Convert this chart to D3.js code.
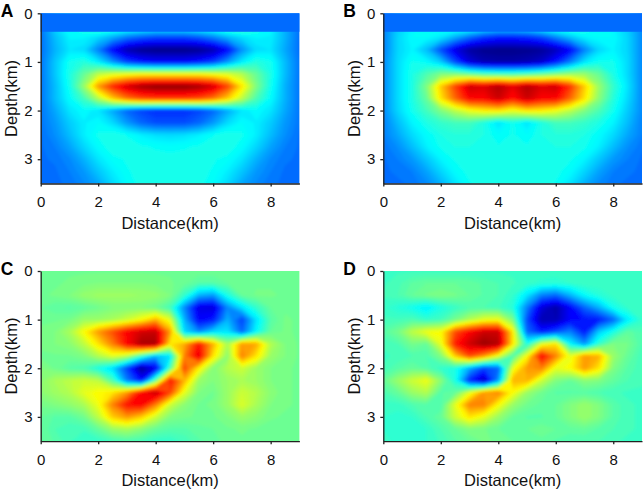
<!DOCTYPE html>
<html>
<head>
<meta charset="utf-8">
<script src="https://cdn.jsdelivr.net/npm/d3@7"></script>
<style>
  body { margin: 0; background: #fff; }
  text { font-family: Arial, "Liberation Sans", sans-serif; }
</style>
</head>
<body>
<svg id="chart" width="643" height="490"></svg>
<script>
// grid where the fields were read (km)
const distanceKm = [0, 0.5, 1, 1.5, 2, 2.5, 3, 3.5, 4, 4.5, 5, 5.5, 6, 6.5, 7, 7.5, 8, 8.5, 9];
const depthKm = [0, 0.25, 0.5, 0.75, 1, 1.25, 1.5, 1.75, 2, 2.25, 2.5, 2.75, 3, 3.25, 3.5];

// axis ticks
const distanceTicks = [0, 2, 4, 6, 8];
const depthTicks = [0, 1, 2, 3];
const panelLabels = ["A", "B", "C", "D"];

// uniform top layer of A and B (covers the first rows)
const bandDepth = 0.38;
const bandValue = -0.54;

// amplitude, -1 (dark blue) .. 1 (dark red), one row per depth
const fieldA = [
  [-0.52,-0.32,-0.22,-0.15,-0.08,-0.08,-0.1,-0.12,-0.15,-0.15,-0.15,-0.12,-0.1,-0.05,-0.05,-0.15,-0.25,-0.4,-0.52],
  [-0.52,-0.32,-0.22,-0.15,-0.08,-0.08,-0.1,-0.12,-0.15,-0.15,-0.15,-0.12,-0.1,-0.05,-0.05,-0.15,-0.25,-0.4,-0.52],
  [-0.53,-0.38,-0.27,-0.27,-0.33,-0.42,-0.52,-0.58,-0.62,-0.62,-0.62,-0.58,-0.5,-0.4,-0.32,-0.27,-0.28,-0.4,-0.53],
  [-0.53,-0.4,-0.3,-0.32,-0.5,-0.74,-0.9,-0.96,-0.98,-0.98,-0.98,-0.96,-0.9,-0.74,-0.47,-0.32,-0.3,-0.42,-0.53],
  [-0.52,-0.36,-0.22,-0.18,-0.28,-0.45,-0.62,-0.7,-0.74,-0.74,-0.74,-0.7,-0.62,-0.45,-0.28,-0.18,-0.22,-0.38,-0.52],
  [-0.52,-0.36,-0.2,-0.05,0.12,0.18,0.22,0.25,0.25,0.25,0.25,0.25,0.22,0.18,0.1,-0.05,-0.2,-0.38,-0.52],
  [-0.52,-0.38,-0.22,0.05,0.45,0.68,0.84,0.93,0.97,0.97,0.97,0.93,0.84,0.62,0.3,0.0,-0.22,-0.4,-0.52],
  [-0.52,-0.38,-0.25,-0.12,0.1,0.35,0.52,0.6,0.63,0.63,0.63,0.6,0.52,0.35,0.12,-0.1,-0.25,-0.4,-0.52],
  [-0.52,-0.42,-0.3,-0.25,-0.3,-0.42,-0.55,-0.62,-0.66,-0.66,-0.66,-0.62,-0.55,-0.42,-0.3,-0.25,-0.3,-0.42,-0.52],
  [-0.52,-0.45,-0.35,-0.28,-0.25,-0.32,-0.45,-0.55,-0.6,-0.6,-0.6,-0.55,-0.45,-0.32,-0.25,-0.28,-0.35,-0.45,-0.52],
  [-0.53,-0.47,-0.38,-0.28,-0.22,-0.2,-0.23,-0.28,-0.31,-0.32,-0.31,-0.28,-0.23,-0.2,-0.22,-0.28,-0.38,-0.47,-0.53],
  [-0.53,-0.5,-0.43,-0.33,-0.25,-0.2,-0.2,-0.22,-0.23,-0.24,-0.23,-0.22,-0.2,-0.2,-0.25,-0.33,-0.43,-0.5,-0.53],
  [-0.53,-0.52,-0.48,-0.4,-0.3,-0.24,-0.22,-0.21,-0.21,-0.21,-0.21,-0.21,-0.22,-0.24,-0.3,-0.4,-0.48,-0.52,-0.53],
  [-0.53,-0.53,-0.5,-0.45,-0.36,-0.28,-0.23,-0.21,-0.2,-0.2,-0.2,-0.21,-0.23,-0.28,-0.36,-0.45,-0.5,-0.53,-0.53],
  [-0.53,-0.53,-0.52,-0.48,-0.42,-0.32,-0.25,-0.21,-0.2,-0.2,-0.2,-0.21,-0.25,-0.32,-0.42,-0.48,-0.52,-0.53,-0.53]
];

const fieldB = [
  [-0.5,-0.35,-0.27,-0.22,-0.18,-0.13,-0.1,-0.15,-0.2,-0.2,-0.18,-0.12,-0.08,-0.08,-0.15,-0.22,-0.27,-0.35,-0.48],
  [-0.5,-0.35,-0.27,-0.22,-0.18,-0.13,-0.1,-0.15,-0.2,-0.2,-0.18,-0.12,-0.08,-0.08,-0.15,-0.22,-0.27,-0.35,-0.48],
  [-0.5,-0.33,-0.25,-0.25,-0.3,-0.42,-0.55,-0.65,-0.7,-0.7,-0.68,-0.62,-0.5,-0.38,-0.28,-0.25,-0.25,-0.33,-0.48],
  [-0.5,-0.33,-0.27,-0.38,-0.6,-0.8,-0.93,-0.97,-0.98,-0.98,-0.97,-0.95,-0.88,-0.75,-0.5,-0.33,-0.27,-0.33,-0.48],
  [-0.48,-0.32,-0.22,-0.25,-0.35,-0.6,-0.82,-0.9,-0.92,-0.92,-0.9,-0.85,-0.7,-0.5,-0.3,-0.22,-0.22,-0.32,-0.48],
  [-0.48,-0.32,-0.2,-0.1,0.0,0.0,-0.05,-0.1,-0.12,-0.12,-0.1,-0.05,0.0,0.05,0.05,-0.05,-0.2,-0.32,-0.48],
  [-0.48,-0.32,-0.2,0.0,0.35,0.62,0.85,0.82,0.9,0.8,0.9,0.82,0.85,0.65,0.35,0.05,-0.15,-0.3,-0.48],
  [-0.48,-0.32,-0.2,-0.05,0.3,0.55,0.75,0.75,0.85,0.72,0.85,0.75,0.75,0.55,0.3,0.02,-0.18,-0.32,-0.48],
  [-0.48,-0.33,-0.22,-0.12,0.0,0.12,0.22,0.28,0.3,0.22,0.3,0.28,0.22,0.12,0.0,-0.1,-0.22,-0.35,-0.48],
  [-0.5,-0.38,-0.27,-0.2,-0.15,-0.12,-0.12,-0.2,-0.3,-0.22,-0.3,-0.2,-0.12,-0.12,-0.15,-0.2,-0.27,-0.38,-0.5],
  [-0.5,-0.42,-0.32,-0.25,-0.2,-0.18,-0.18,-0.2,-0.25,-0.22,-0.25,-0.2,-0.18,-0.18,-0.2,-0.25,-0.32,-0.42,-0.5],
  [-0.52,-0.47,-0.38,-0.28,-0.22,-0.2,-0.2,-0.2,-0.22,-0.22,-0.22,-0.2,-0.2,-0.2,-0.22,-0.28,-0.38,-0.47,-0.52],
  [-0.53,-0.5,-0.45,-0.36,-0.27,-0.22,-0.2,-0.2,-0.2,-0.2,-0.2,-0.2,-0.2,-0.22,-0.27,-0.36,-0.45,-0.5,-0.53],
  [-0.53,-0.52,-0.5,-0.43,-0.33,-0.25,-0.21,-0.2,-0.2,-0.2,-0.2,-0.2,-0.21,-0.25,-0.33,-0.43,-0.5,-0.52,-0.53],
  [-0.53,-0.53,-0.52,-0.48,-0.4,-0.3,-0.23,-0.2,-0.2,-0.2,-0.2,-0.2,-0.23,-0.3,-0.4,-0.48,-0.52,-0.53,-0.53]
];

const fieldC = [
  [-0.03,-0.03,-0.03,-0.03,-0.03,-0.03,-0.03,-0.03,-0.03,-0.03,-0.03,-0.03,-0.03,-0.03,-0.03,-0.03,-0.03,-0.03,-0.03],
  [-0.03,-0.03,-0.02,-0.01,0.0,0.0,0.0,0.0,-0.01,-0.02,-0.04,-0.08,-0.08,-0.05,-0.03,-0.03,-0.03,-0.03,-0.03],
  [-0.03,-0.02,0.0,0.04,0.06,0.06,0.06,0.05,0.04,0.0,-0.15,-0.4,-0.45,-0.2,-0.05,-0.02,-0.02,-0.03,-0.03],
  [-0.05,-0.07,-0.08,-0.06,-0.03,0.0,0.0,0.0,-0.03,-0.12,-0.48,-0.8,-0.82,-0.48,-0.3,-0.15,-0.05,-0.03,-0.03],
  [-0.03,-0.03,-0.02,0.05,0.05,0.08,0.15,0.25,0.4,0.2,-0.4,-0.75,-0.7,-0.4,-0.62,-0.3,-0.08,-0.02,-0.03],
  [-0.02,0.0,0.08,0.25,0.45,0.6,0.75,0.84,0.86,0.45,-0.32,-0.48,-0.32,-0.3,-0.55,-0.25,-0.05,-0.02,-0.03],
  [-0.02,0.0,0.02,0.12,0.3,0.5,0.74,0.92,0.92,0.3,0.42,0.72,0.4,0.08,0.45,0.42,0.1,0.0,-0.03],
  [-0.03,-0.03,-0.03,0.0,0.1,0.2,0.12,-0.15,-0.4,-0.3,0.5,0.8,0.3,0.02,0.5,0.3,0.05,0.0,-0.03],
  [0.0,-0.03,-0.08,-0.1,-0.2,-0.32,-0.62,-0.95,-0.78,-0.1,0.62,0.28,0.0,0.1,0.15,0.05,0.0,-0.02,-0.03],
  [0.02,0.08,0.12,0.15,0.12,-0.1,-0.5,-0.72,-0.05,0.72,0.4,0.05,0.0,0.05,0.08,0.05,0.0,-0.02,-0.03],
  [0.02,0.06,0.1,0.2,0.25,0.3,0.45,0.75,0.88,0.62,0.2,0.0,-0.03,0.05,0.15,0.1,0.02,-0.02,-0.03],
  [-0.02,0.0,0.03,0.08,0.22,0.5,0.72,0.75,0.5,0.15,0.02,-0.03,-0.02,0.05,0.18,0.08,0.0,-0.02,-0.03],
  [-0.05,-0.08,-0.08,-0.03,0.12,0.35,0.45,0.35,0.15,0.0,-0.02,-0.03,-0.03,0.0,0.05,0.02,-0.02,-0.03,-0.03],
  [-0.05,-0.1,-0.12,-0.12,-0.05,0.05,0.08,0.02,-0.05,-0.08,-0.08,-0.06,-0.05,-0.03,-0.02,-0.03,-0.04,-0.04,-0.04],
  [-0.05,-0.08,-0.12,-0.15,-0.15,-0.12,-0.1,-0.12,-0.15,-0.15,-0.12,-0.08,-0.06,-0.04,-0.03,-0.03,-0.04,-0.04,-0.04]
];

const fieldD = [
  [-0.13,-0.13,-0.13,-0.13,-0.13,-0.13,-0.13,-0.13,-0.13,-0.13,-0.13,-0.13,-0.13,-0.13,-0.13,-0.13,-0.13,-0.13,-0.13],
  [-0.13,-0.11,-0.07,-0.05,-0.05,-0.05,-0.06,-0.08,-0.1,-0.12,-0.14,-0.16,-0.17,-0.15,-0.13,-0.13,-0.13,-0.13,-0.13],
  [-0.12,-0.1,-0.05,-0.02,0.0,-0.02,-0.05,-0.08,-0.1,-0.15,-0.3,-0.5,-0.55,-0.4,-0.25,-0.18,-0.14,-0.13,-0.13],
  [-0.14,-0.18,-0.22,-0.28,-0.2,-0.14,-0.1,-0.1,-0.12,-0.18,-0.5,-0.82,-0.92,-0.75,-0.55,-0.4,-0.22,-0.15,-0.13],
  [-0.12,-0.12,-0.1,-0.15,-0.12,-0.02,0.1,0.2,0.22,0.0,-0.6,-0.9,-0.9,-0.75,-0.72,-0.7,-0.55,-0.28,-0.15],
  [-0.08,-0.02,0.12,0.22,0.25,0.6,0.75,0.85,0.85,0.3,-0.55,-0.7,-0.6,-0.5,-0.7,-0.35,-0.2,-0.06,-0.1],
  [-0.12,-0.1,-0.02,-0.05,0.2,0.7,0.85,0.95,0.9,0.3,-0.2,0.2,0.3,-0.25,-0.45,-0.15,0.0,-0.02,-0.1],
  [-0.13,-0.12,-0.1,-0.1,0.0,0.35,0.6,0.45,0.2,-0.1,0.25,0.75,0.5,0.2,0.45,0.4,0.05,-0.05,-0.12],
  [-0.12,-0.08,-0.05,-0.08,-0.15,-0.2,-0.42,-0.62,-0.55,0.2,0.45,0.5,0.2,0.25,0.45,0.3,0.0,-0.08,-0.12],
  [-0.05,0.05,0.15,0.22,0.02,-0.2,-0.68,-0.88,-0.45,0.4,0.4,0.15,0.0,-0.05,0.02,0.0,-0.06,-0.1,-0.12],
  [-0.1,-0.05,0.05,0.1,-0.08,-0.05,0.2,0.45,0.5,0.25,0.05,-0.03,-0.08,-0.08,-0.08,-0.1,-0.12,-0.13,-0.13],
  [-0.14,-0.14,-0.1,-0.08,-0.1,0.2,0.5,0.5,0.25,0.05,-0.03,-0.06,-0.05,0.0,0.05,0.0,-0.08,-0.12,-0.13],
  [-0.15,-0.16,-0.15,-0.1,-0.05,0.15,0.3,0.2,0.05,-0.05,-0.08,-0.08,-0.05,0.0,0.05,0.0,-0.08,-0.12,-0.13],
  [-0.15,-0.17,-0.17,-0.15,-0.1,-0.05,0.0,-0.02,-0.05,-0.06,-0.05,-0.03,-0.05,-0.06,-0.05,-0.08,-0.1,-0.12,-0.13],
  [-0.14,-0.16,-0.16,-0.15,-0.12,-0.08,-0.05,-0.02,-0.03,-0.05,-0.06,-0.06,-0.08,-0.1,-0.1,-0.1,-0.12,-0.13,-0.13]
];

const fields = [fieldA, fieldB, fieldC, fieldD];

// jet colour map
const jet = d3.scaleLinear()
  .domain([-1, -0.75, -0.25, 0.25, 0.75, 1])
  .range(["#000080", "#0000ff", "#00ffff", "#ffff00", "#ff0000", "#800000"])
  .clamp(true);

const step = 0.025;
const levels = d3.range(-1, 1, step);

// panel boxes (px)
const plotW = 258.7, plotH = 170.2;
const layout = [
  { left: 40.7, top: 13.3, band: true },
  { left: 383.3, top: 13.3, band: true },
  { left: 40.7, top: 271, band: false },
  { left: 383.3, top: 271, band: false }
];

const svg = d3.select("#chart");
const defs = svg.append("defs");
defs.append("filter").attr("id", "soften")
  .append("feGaussianBlur").attr("stdDeviation", 1.8);

function drawPanel(i) {
  const box = layout[i];
  const field = fields[i];

  const x = d3.scaleLinear().domain([0, 9]).range([box.left, box.left + plotW]);
  const y = d3.scaleLinear().domain([0, 3.5]).range([box.top, box.top + plotH]);

  // contour grid coordinates -> km -> px (sample k sits at k + 0.5)
  const gx = d3.scaleLinear()
    .domain([0.5, distanceKm.length - 0.5])
    .range([x(distanceKm[0]), x(distanceKm[distanceKm.length - 1])]);
  const gy = d3.scaleLinear()
    .domain([0.5, depthKm.length - 0.5])
    .range([y(depthKm[0]), y(depthKm[depthKm.length - 1])]);
  const path = d3.geoPath(d3.geoTransform({
    point(px, py) { this.stream.point(gx(px), gy(py)); }
  }));

  const bands = d3.contours()
    .size([distanceKm.length, depthKm.length])
    .thresholds(levels)(field.flat());

  defs.append("clipPath").attr("id", "clip" + i)
    .append("rect")
    .attr("x", x(0)).attr("y", y(0))
    .attr("width", x(9) - x(0)).attr("height", y(3.5) - y(0));

  svg.append("g").attr("clip-path", `url(#clip${i})`)
    .append("g").attr("filter", "url(#soften)")
    .selectAll("path")
    .data(bands)
    .join("path")
    .attr("d", path)
    .attr("fill", d => jet(d.value + step / 2));

  if (box.band) {
    svg.append("rect")
      .attr("x", x(0)).attr("y", y(0))
      .attr("width", x(9) - x(0)).attr("height", y(bandDepth) - y(0))
      .attr("fill", jet(bandValue));
  }

  const xAxis = d3.axisBottom(x).tickValues(distanceTicks).tickFormat(d3.format("d"))
    .tickSize(3).tickSizeOuter(0).tickPadding(10);
  const yAxis = d3.axisLeft(y).tickValues(depthTicks).tickFormat(d3.format("d"))
    .tickSize(3).tickSizeOuter(0).tickPadding(5);

  const gX = svg.append("g").attr("transform", `translate(0,${y(3.5)})`).call(xAxis);
  const gY = svg.append("g").attr("transform", `translate(${x(0)},0)`).call(yAxis);
  [gX, gY].forEach(g => {
    g.selectAll("path, line").attr("stroke", "#222").attr("stroke-width", 1.3);
    g.selectAll("text").attr("font-size", 15).attr("fill", "#111")
      .attr("font-family", "Arial, 'Liberation Sans', sans-serif");
  });

  svg.append("text")
    .attr("x", (x(0) + x(9)) / 2).attr("y", y(3.5) + 45)
    .attr("text-anchor", "middle").attr("font-size", 16.5).attr("fill", "#111")
    .text("Distance(km)");

  svg.append("text")
    .attr("transform", `translate(${x(0) - 23.5},${(y(0) + y(3.5)) / 2}) rotate(-90)`)
    .attr("text-anchor", "middle").attr("font-size", 16.5).attr("fill", "#111")
    .text("Depth(km)");

  svg.append("text")
    .attr("x", x(0) - 40).attr("y", y(0) + 3.5)
    .attr("font-size", 17.5).attr("font-weight", "bold").attr("fill", "#000")
    .text(panelLabels[i]);
}

d3.range(4).forEach(drawPanel);
</script>
</body>
</html>
